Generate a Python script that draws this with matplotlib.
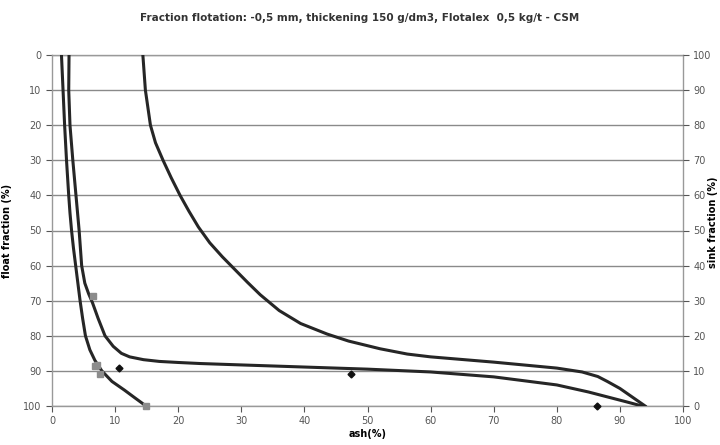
import matplotlib
matplotlib.use("Agg")
import matplotlib.pyplot as plt

# float curve (ash of floats vs float fraction)
float_ash = [1.5, 1.75, 2.0, 2.3, 2.65, 2.85, 3.1, 3.4, 3.75, 4.1, 4.45, 4.85, 5.3,
             6.0, 6.8, 7.9, 9.5, 11.5, 13.0, 14.9]
float_frac = [0, 10, 20, 30, 40, 45, 50, 55, 60, 65, 70, 75, 80,
              84, 87, 90, 93, 95.5, 97.5, 100]

# elementary curve
elem_ash = [2.7, 2.65, 2.85, 3.3, 3.8, 4.3, 4.7, 5.2, 5.8, 6.4, 7.3, 8.4, 9.7, 11.0,
            12.3, 14.5, 17, 20, 23.5, 30, 40, 50, 60, 70, 80, 85, 88, 91, 93.5]
elem_frac = [0, 10, 20, 30, 40, 50, 60, 65, 68, 70.5, 75, 80, 83, 85,
             86, 86.8, 87.3, 87.6, 87.9, 88.3, 88.9, 89.5, 90.3, 91.7, 94, 96, 97.4, 98.8, 100]

# sink curve (right axis)
sink_ash = [14.4, 14.6, 14.8, 15.2, 15.6, 16.4, 17.6, 18.9, 20.3, 21.7, 23.2, 25,
            27.0, 29.3, 31, 33, 36, 39.4, 43.6, 47, 52, 56.3, 60, 70, 80, 84,
            86.5, 88, 90, 92, 94]
sink_frac = [100, 95, 90, 85, 80, 75, 70, 65, 60, 55.5, 51, 46.5,
             42.5, 38.3, 35.2, 31.7, 27.2, 23.5, 20.5, 18.5, 16.3, 14.8, 14, 12.5, 10.8, 9.7,
             8.4, 7, 5, 2.5, 0]

# measured points
sq_ash = [6.5, 6.8, 7.2, 7.6, 14.9]
sq_frac = [68.7, 88.5, 88.2, 90.9, 100]
dm_ash = [10.6, 47.4, 86.3]
dm_frac = [89.3, 90.8, 100]

line_c = "#262626"

fig = plt.figure(figsize=(7.2, 4.45), dpi=100)
ax = fig.add_axes([52/720, 1-406/445, 631/720, 351/445])

ax.set_xlim(0, 100)
ax.set_ylim(100, 0)
ax.set_xticks(range(0, 101, 10))
ax.set_yticks(range(0, 101, 10))
ax.grid(axis="y", color="#8a8a8a", linewidth=1.0)
ax.set_axisbelow(True)
for s in ax.spines.values():
    s.set_color("#999999")
    s.set_linewidth(1.0)
ax.tick_params(colors="#555555", labelsize=7, length=4, width=0.8, direction="out")

ax.plot(float_ash, float_frac, color=line_c, linewidth=2.2, zorder=3, solid_joinstyle="round")
ax.plot(elem_ash, elem_frac, color=line_c, linewidth=2.2, zorder=3, solid_joinstyle="round")
ax.plot(sq_ash, sq_frac, "s", color="#8c8c8c", markersize=5, linestyle="none", zorder=4, clip_on=False)
ax.plot(dm_ash, dm_frac, "D", color="#111111", markersize=3.5, linestyle="none", zorder=4, clip_on=False)

ax2 = ax.twinx()
ax2.set_ylim(0, 100)
ax2.set_yticks(range(0, 101, 10))
for s in ax2.spines.values():
    s.set_visible(False)
ax2.tick_params(colors="#555555", labelsize=7, length=4, width=0.8, direction="out")
ax2.plot(sink_ash, sink_frac, color=line_c, linewidth=2.2, zorder=3, solid_joinstyle="round")

ax.set_xlabel("ash(%)", fontsize=7, fontweight="bold", labelpad=2)
ax.set_ylabel("float fraction (%)", fontsize=7, fontweight="bold", labelpad=8)
fig.text(713.5/720, 0.5, "sink fraction (%)", rotation=90, ha="center", va="center",
         fontsize=7, fontweight="bold")

fig.text(0.5, 1-18/445, "Fraction flotation: -0,5 mm, thickening 150 g/dm3, Flotalex  0,5 kg/t - CSM",
         ha="center", va="center", fontsize=7.5, fontweight="bold", color="#333333")

fig.savefig("out.png", dpi=100, facecolor="white")
